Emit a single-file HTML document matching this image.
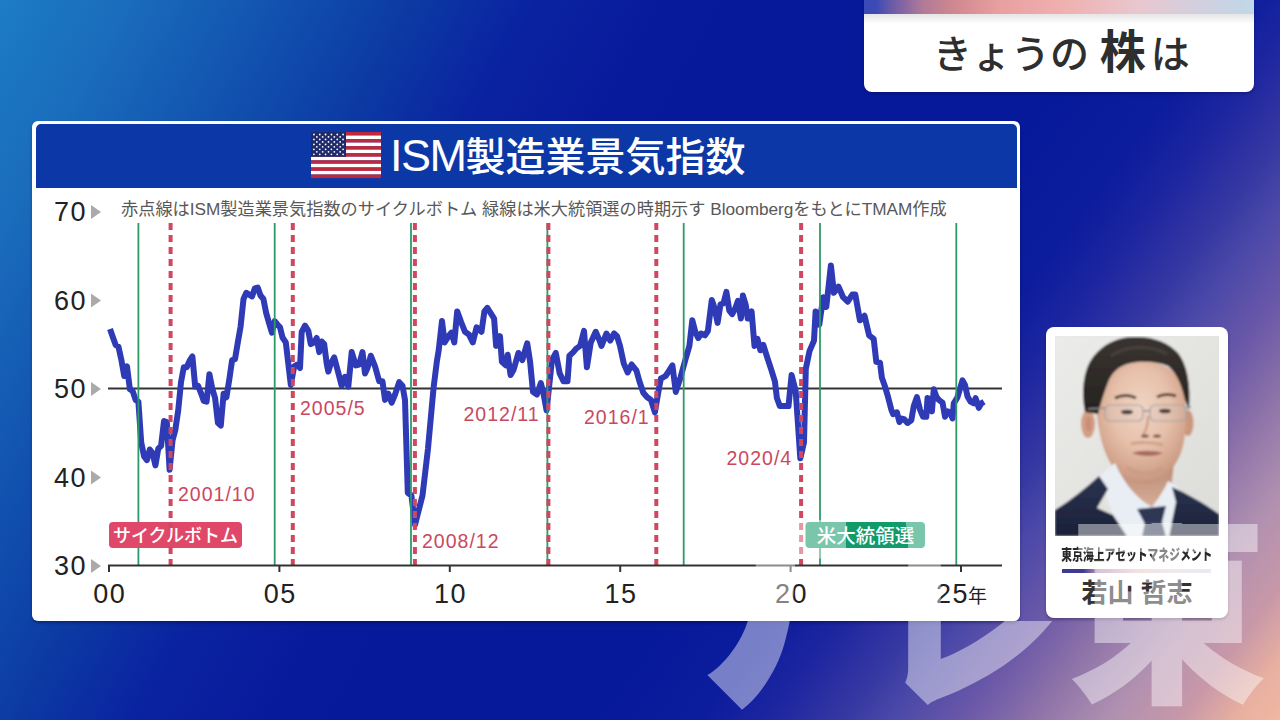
<!DOCTYPE html>
<html lang="ja">
<head>
<meta charset="utf-8">
<title>きょうの株は ISM製造業景気指数</title>
<style>
html,body{margin:0;padding:0;}
body{width:1280px;height:720px;overflow:hidden;position:relative;
  font-family:"Liberation Sans", "Noto Sans CJK JP", sans-serif;
  background:
    linear-gradient(127deg, rgba(10,27,156,0) 0%, rgba(10,27,156,0) 62%, rgba(11,28,156,1) 68%, #1e26a0 72%, #3638a2 76%, #4a48a8 78.5%, #6a58a8 82.5%, #8a70a8 86%, #b090b0 90.5%, #c898a8 94.5%, #e8b0a0 97.5%, #f0b8a0 100%),
    linear-gradient(119deg, #1c7cc4 0%, #1a6cbc 7.7%, #1254b0 16%, #0c3ca4 24%, #0a22a0 32%, #081a9c 40%, #07199b 55%, #0a1b9c 100%);
}
.abs{position:absolute;}
/* title box */
#tbox{left:864px;top:0;width:390px;height:92px;background:#fff;border-radius:0 0 8px 8px;overflow:hidden;box-shadow:0 2px 3px rgba(0,0,30,0.25);}
#tbox .strip{position:absolute;left:0;top:0;width:100%;height:14px;
  background:linear-gradient(90deg,#3a4ab8 0%,#3c4ab6 3%,#6a5aa8 7%,#b07a98 15%,#d08890 23%,#e8a0a0 35%,#f0b0b0 51%,#e8c8d0 71%,#d0d0e0 87%,#c0d8e8 100%);}
#tbox .shade{position:absolute;left:0;top:14px;width:100%;height:10px;background:linear-gradient(180deg,rgba(0,0,0,0.10),rgba(0,0,0,0));}
#tbox .t{position:absolute;left:0;top:29px;width:390px;text-align:left;text-indent:69px;white-space:nowrap;color:#2e2e2e;font-size:39px;font-weight:500;line-height:1;}
#tbox .t b{font-size:46px;font-weight:700;}
/* chart panel */
#panel{left:32px;top:121px;width:988px;height:500px;background:#fff;border-radius:6px;box-shadow:0 2px 3px rgba(0,0,40,0.35);}
#phead{left:35.5px;top:124px;width:981.5px;height:64px;background:#0b38a6;border-radius:5px 5px 0 0;}
#ptitle{left:390px;top:124px;height:64px;line-height:64px;color:#fff;font-size:40px;font-weight:500;white-space:nowrap;letter-spacing:0px;}
#ptitle .ism{font-size:45px;letter-spacing:-1.5px;}
svg text{font-family:"Liberation Sans", "Noto Sans CJK JP", sans-serif;}
.yl{font-size:27px;fill:#222;letter-spacing:1.5px;}
.bt2{font-size:19.5px;fill:#fff;font-weight:500;}
.nen{font-size:19px;fill:#222;}
.rl{font-size:19.5px;fill:#c9485f;letter-spacing:1px;}
.bt{font-size:18px;fill:#fff;font-weight:500;}
.sub{font-size:17.2px;fill:#585858;}
/* profile card */
#card{left:1046px;top:327px;width:182px;height:291px;background:#fff;border-radius:8px;box-shadow:0 2px 3px rgba(0,0,40,0.3);}
#photo{left:1055px;top:336px;width:164px;height:200px;overflow:hidden;background:#e5e5e3;}
#comp{left:987px;top:545px;width:300px;text-align:center;white-space:nowrap;font-size:15px;font-weight:900;color:#2a2a2a;line-height:20px;}
#comp span{display:inline-block;transform:scaleX(0.72);transform-origin:center;}
#gbar{left:1062px;top:568.5px;width:149px;height:4px;background:linear-gradient(90deg,#3c3a92 0%,#3c3a92 14%,#b894b4 24%,#eccaca 50%,#e4d8e0 75%,#d6dce8 100%);}
#name{left:1046px;top:575px;width:182px;text-align:center;white-space:nowrap;font-size:26px;font-weight:700;color:#333;line-height:36px;}
/* watermark */
#wm{left:0;top:0;width:1280px;height:720px;pointer-events:none;}
#wm span{position:absolute;color:#fff;opacity:0.44;font-weight:900;line-height:1;white-space:nowrap;}
</style>
</head>
<body>
<div id="tbox" class="abs"><div class="strip"></div><div class="shade"></div><div class="t">きょうの <b>株</b><span style="margin-left:5px">は</span></div></div>

<div id="panel" class="abs"></div>
<div id="phead" class="abs"></div>
<svg class="abs" style="left:0;top:0" width="1280" height="720" viewBox="0 0 1280 720">
<rect x="311" y="132.00" width="70" height="3.59" fill="#c0283e"/>
<rect x="311" y="135.54" width="70" height="3.59" fill="#ffffff"/>
<rect x="311" y="139.08" width="70" height="3.59" fill="#c0283e"/>
<rect x="311" y="142.62" width="70" height="3.59" fill="#ffffff"/>
<rect x="311" y="146.15" width="70" height="3.59" fill="#c0283e"/>
<rect x="311" y="149.69" width="70" height="3.59" fill="#ffffff"/>
<rect x="311" y="153.23" width="70" height="3.59" fill="#c0283e"/>
<rect x="311" y="156.77" width="70" height="3.59" fill="#ffffff"/>
<rect x="311" y="160.31" width="70" height="3.59" fill="#c0283e"/>
<rect x="311" y="163.85" width="70" height="3.59" fill="#ffffff"/>
<rect x="311" y="167.38" width="70" height="3.59" fill="#c0283e"/>
<rect x="311" y="170.92" width="70" height="3.59" fill="#ffffff"/>
<rect x="311" y="174.46" width="70" height="3.59" fill="#c0283e"/>
<rect x="311" y="132" width="35" height="24.77" fill="#1e2a6a"/>
<circle cx="313.92" cy="134.48" r="0.9" fill="#fff"/>
<circle cx="319.75" cy="134.48" r="0.9" fill="#fff"/>
<circle cx="325.58" cy="134.48" r="0.9" fill="#fff"/>
<circle cx="331.42" cy="134.48" r="0.9" fill="#fff"/>
<circle cx="337.25" cy="134.48" r="0.9" fill="#fff"/>
<circle cx="343.08" cy="134.48" r="0.9" fill="#fff"/>
<circle cx="316.83" cy="136.95" r="0.9" fill="#fff"/>
<circle cx="322.67" cy="136.95" r="0.9" fill="#fff"/>
<circle cx="328.50" cy="136.95" r="0.9" fill="#fff"/>
<circle cx="334.33" cy="136.95" r="0.9" fill="#fff"/>
<circle cx="340.17" cy="136.95" r="0.9" fill="#fff"/>
<circle cx="313.92" cy="139.43" r="0.9" fill="#fff"/>
<circle cx="319.75" cy="139.43" r="0.9" fill="#fff"/>
<circle cx="325.58" cy="139.43" r="0.9" fill="#fff"/>
<circle cx="331.42" cy="139.43" r="0.9" fill="#fff"/>
<circle cx="337.25" cy="139.43" r="0.9" fill="#fff"/>
<circle cx="343.08" cy="139.43" r="0.9" fill="#fff"/>
<circle cx="316.83" cy="141.91" r="0.9" fill="#fff"/>
<circle cx="322.67" cy="141.91" r="0.9" fill="#fff"/>
<circle cx="328.50" cy="141.91" r="0.9" fill="#fff"/>
<circle cx="334.33" cy="141.91" r="0.9" fill="#fff"/>
<circle cx="340.17" cy="141.91" r="0.9" fill="#fff"/>
<circle cx="313.92" cy="144.38" r="0.9" fill="#fff"/>
<circle cx="319.75" cy="144.38" r="0.9" fill="#fff"/>
<circle cx="325.58" cy="144.38" r="0.9" fill="#fff"/>
<circle cx="331.42" cy="144.38" r="0.9" fill="#fff"/>
<circle cx="337.25" cy="144.38" r="0.9" fill="#fff"/>
<circle cx="343.08" cy="144.38" r="0.9" fill="#fff"/>
<circle cx="316.83" cy="146.86" r="0.9" fill="#fff"/>
<circle cx="322.67" cy="146.86" r="0.9" fill="#fff"/>
<circle cx="328.50" cy="146.86" r="0.9" fill="#fff"/>
<circle cx="334.33" cy="146.86" r="0.9" fill="#fff"/>
<circle cx="340.17" cy="146.86" r="0.9" fill="#fff"/>
<circle cx="313.92" cy="149.34" r="0.9" fill="#fff"/>
<circle cx="319.75" cy="149.34" r="0.9" fill="#fff"/>
<circle cx="325.58" cy="149.34" r="0.9" fill="#fff"/>
<circle cx="331.42" cy="149.34" r="0.9" fill="#fff"/>
<circle cx="337.25" cy="149.34" r="0.9" fill="#fff"/>
<circle cx="343.08" cy="149.34" r="0.9" fill="#fff"/>
<circle cx="316.83" cy="151.82" r="0.9" fill="#fff"/>
<circle cx="322.67" cy="151.82" r="0.9" fill="#fff"/>
<circle cx="328.50" cy="151.82" r="0.9" fill="#fff"/>
<circle cx="334.33" cy="151.82" r="0.9" fill="#fff"/>
<circle cx="340.17" cy="151.82" r="0.9" fill="#fff"/>
<circle cx="313.92" cy="154.29" r="0.9" fill="#fff"/>
<circle cx="319.75" cy="154.29" r="0.9" fill="#fff"/>
<circle cx="325.58" cy="154.29" r="0.9" fill="#fff"/>
<circle cx="331.42" cy="154.29" r="0.9" fill="#fff"/>
<circle cx="337.25" cy="154.29" r="0.9" fill="#fff"/>
<circle cx="343.08" cy="154.29" r="0.9" fill="#fff"/>
</svg>
<div id="ptitle" class="abs"><span class="ism">ISM</span>製造業景気指数</div>

<svg class="abs" style="left:0;top:0" width="1280" height="720" viewBox="0 0 1280 720">
<line x1="108" y1="388.4" x2="1002" y2="388.4" stroke="#333" stroke-width="2"/>
<polyline points="110.0,329.1 112.8,337.1 115.7,345.0 118.5,346.8 121.4,360.1 124.2,376.0 127.0,366.3 129.9,389.3 132.7,391.1 135.6,399.9 138.4,401.7 141.2,442.4 144.1,456.5 146.9,460.1 149.8,449.5 152.6,453.0 155.4,465.4 158.3,448.6 161.1,445.9 164.0,421.1 166.8,422.0 169.6,469.8 172.5,440.6 175.3,430.0 178.2,410.5 181.0,382.2 183.8,367.2 186.7,367.2 189.5,361.0 192.4,356.5 195.2,386.6 198.0,385.7 200.9,392.8 203.7,400.8 206.6,401.7 209.4,374.2 212.2,388.4 215.1,398.1 217.9,422.9 220.8,425.6 223.6,393.7 226.4,397.2 229.3,379.5 232.1,360.1 235.0,359.2 237.8,342.4 240.6,326.4 243.5,299.0 246.3,292.8 249.2,294.6 252.0,296.4 254.8,288.4 257.7,287.5 260.5,295.5 263.4,299.0 266.2,313.2 269.0,322.9 271.9,332.6 274.7,321.1 277.6,324.7 280.0,327.3 282.5,337.5 285.8,342.4 288.3,363.6 290.8,384.9 294.2,366.3 297.5,364.5 300.0,368.0 301.7,331.8 305.0,325.6 308.3,330.9 310.8,344.1 314.2,342.4 316.7,338.0 319.2,352.1 321.7,341.5 324.2,344.1 326.7,363.6 328.3,371.6 330.8,363.6 334.2,357.4 337.5,369.8 341.7,385.7 345.0,376.9 348.3,386.6 351.7,352.1 355.8,365.4 359.2,364.5 362.5,352.1 365.0,373.4 367.5,368.0 370.8,355.7 375.0,366.3 379.2,381.3 382.5,381.3 385.0,399.9 388.3,393.7 391.7,402.6 395.0,394.6 399.2,382.2 402.5,385.7 405.0,399.9 407.8,492.8 411.4,495.5 415.0,524.7 418.9,509.6 422.5,495.5 428.0,448.6 433.6,387.5 436.8,361.8 438.7,350.3 442.0,321.1 444.6,342.4 448.5,336.2 451.4,332.6 454.3,342.4 457.2,311.4 461.1,322.0 465.0,331.8 468.9,334.4 472.8,342.4 476.6,327.3 481.5,331.8 484.4,311.4 487.3,307.9 490.2,312.3 494.1,318.5 496.1,345.9 500.0,336.2 501.9,361.8 505.8,365.4 507.7,354.8 510.6,375.1 513.6,369.8 518.4,353.0 522.3,360.1 527.2,343.3 530.1,361.8 533.0,391.9 536.9,394.6 540.8,383.1 543.7,394.6 546.6,410.5 551.9,360.1 555.8,353.0 559.7,373.4 563.6,381.3 567.5,381.3 569.4,355.7 573.3,352.1 576.2,348.6 580.1,345.9 584.0,330.9 586.9,367.2 590.8,342.4 595.7,331.8 599.6,340.6 601.5,345.9 606.4,333.5 610.2,340.6 614.1,333.5 617.0,336.2 620.0,345.9 623.8,363.6 627.7,372.5 631.6,364.5 636.5,370.7 639.4,381.3 643.3,392.8 647.2,397.2 651.0,399.9 654.9,412.3 657.9,394.6 660.8,378.7 665.6,376.0 668.5,371.6 672.4,365.4 675.8,391.9 680.7,376.9 685.5,359.2 689.4,345.9 692.3,320.3 695.3,331.8 698.2,338.0 701.1,333.5 705.0,335.3 707.9,330.9 711.8,299.9 714.7,308.8 717.6,322.9 720.5,304.3 723.4,303.4 726.4,291.9 729.3,310.5 732.2,314.1 735.1,308.8 738.0,300.8 740.9,318.5 742.9,295.5 745.8,305.2 747.7,318.5 751.6,311.4 754.5,345.9 757.4,338.8 760.4,350.3 763.3,345.0 767.2,357.4 771.0,368.9 774.9,381.3 776.9,398.1 779.8,406.1 784.7,406.1 788.5,406.1 791.6,375.1 795.7,391.1 800.3,458.3 804.0,442.4 805.8,368.9 809.5,351.2 814.0,340.6 815.6,311.4 819.3,324.7 823.2,297.2 826.3,307.0 830.9,265.4 833.9,292.8 838.5,286.6 843.1,297.2 847.7,301.7 852.3,294.6 855.3,294.6 859.9,320.3 864.5,315.8 869.1,335.3 873.7,338.8 876.3,361.8 880.0,362.7 881.9,377.8 885.0,386.6 888.1,397.2 891.3,409.6 893.1,414.1 896.9,412.3 899.4,422.0 901.9,418.5 904.4,419.4 907.5,422.9 911.3,420.3 913.8,406.1 916.9,397.2 920.0,409.6 923.1,416.7 926.3,416.7 927.5,398.1 930.0,399.0 931.9,411.4 933.8,389.3 936.3,396.4 938.8,399.9 942.5,402.6 945.0,416.7 947.5,411.4 950.0,412.3 952.5,418.5 953.8,403.4 957.5,397.2 962.5,380.4 965.0,384.9 967.5,396.4 970.6,401.7 973.8,403.4 975.6,398.1 978.8,407.9 981.3,403.4 984.0,401.7" fill="none" stroke="#2f3bb6" stroke-width="6" stroke-linejoin="round" stroke-linecap="butt"/>
<line x1="138.4" y1="223" x2="138.4" y2="565" stroke="#2e9a6a" stroke-width="1.8"/>
<line x1="274.7" y1="223" x2="274.7" y2="565" stroke="#2e9a6a" stroke-width="1.8"/>
<line x1="411.0" y1="223" x2="411.0" y2="565" stroke="#2e9a6a" stroke-width="1.8"/>
<line x1="547.4" y1="223" x2="547.4" y2="565" stroke="#2e9a6a" stroke-width="1.8"/>
<line x1="683.7" y1="223" x2="683.7" y2="565" stroke="#2e9a6a" stroke-width="1.8"/>
<line x1="820.0" y1="223" x2="820.0" y2="565" stroke="#2e9a6a" stroke-width="1.8"/>
<line x1="956.3" y1="223" x2="956.3" y2="565" stroke="#2e9a6a" stroke-width="1.8"/>
<rect x="109" y="522" width="133" height="26" rx="4" fill="#e0486a"/>
<rect x="805.5" y="522" width="119.5" height="26" rx="4" fill="#119a6a"/>
<line x1="170.6" y1="223" x2="170.6" y2="565" stroke="#d0475f" stroke-width="4" stroke-dasharray="7 5"/>
<line x1="292.8" y1="223" x2="292.8" y2="565" stroke="#d0475f" stroke-width="4" stroke-dasharray="7 5"/>
<line x1="414.9" y1="223" x2="414.9" y2="565" stroke="#d0475f" stroke-width="4" stroke-dasharray="7 5"/>
<line x1="548.4" y1="223" x2="548.4" y2="565" stroke="#d0475f" stroke-width="4" stroke-dasharray="7 5"/>
<line x1="656.3" y1="223" x2="656.3" y2="565" stroke="#d0475f" stroke-width="4" stroke-dasharray="7 5"/>
<line x1="801.1" y1="223" x2="801.1" y2="565" stroke="#d0475f" stroke-width="4" stroke-dasharray="7 5"/>
<line x1="108" y1="565.5" x2="1002" y2="565.5" stroke="#333" stroke-width="2"/>
<line x1="109.0" y1="565" x2="109.0" y2="572" stroke="#333" stroke-width="2"/>
<line x1="279.4" y1="565" x2="279.4" y2="572" stroke="#333" stroke-width="2"/>
<line x1="449.8" y1="565" x2="449.8" y2="572" stroke="#333" stroke-width="2"/>
<line x1="620.2" y1="565" x2="620.2" y2="572" stroke="#333" stroke-width="2"/>
<line x1="790.6" y1="565" x2="790.6" y2="572" stroke="#333" stroke-width="2"/>
<line x1="961.0" y1="565" x2="961.0" y2="572" stroke="#333" stroke-width="2"/>
<text x="87" y="221.0" text-anchor="end" class="yl">70</text>
<polygon points="91,205 101,212 91,219" fill="#aaaaaa"/>
<text x="87" y="309.5" text-anchor="end" class="yl">60</text>
<polygon points="91,293.5 101,300.5 91,307.5" fill="#aaaaaa"/>
<text x="87" y="398.0" text-anchor="end" class="yl">50</text>
<polygon points="91,382 101,389 91,396" fill="#aaaaaa"/>
<text x="87" y="486.5" text-anchor="end" class="yl">40</text>
<polygon points="91,470.5 101,477.5 91,484.5" fill="#aaaaaa"/>
<text x="87" y="575.0" text-anchor="end" class="yl">30</text>
<polygon points="91,559 101,566 91,573" fill="#aaaaaa"/>
<text x="109.8" y="603" text-anchor="middle" class="yl">00</text>
<text x="280.2" y="603" text-anchor="middle" class="yl">05</text>
<text x="450.6" y="603" text-anchor="middle" class="yl">10</text>
<text x="621.0" y="603" text-anchor="middle" class="yl">15</text>
<text x="791.4" y="603" text-anchor="middle" class="yl">20</text>
<text x="952.5" y="603" text-anchor="middle" class="yl">25</text>
<text x="968" y="603" class="nen">年</text>
<text x="178" y="501" class="rl">2001/10</text>
<text x="300" y="415" class="rl">2005/5</text>
<text x="422" y="547.5" class="rl">2008/12</text>
<text x="463.5" y="421" class="rl">2012/11</text>
<text x="584" y="423.5" class="rl">2016/1</text>
<text x="726.5" y="465" class="rl">2020/4</text>
<text x="175.5" y="542" text-anchor="middle" class="bt">サイクルボトム</text>
<text x="865.5" y="542.5" text-anchor="middle" class="bt2">米大統領選</text>
<text x="121" y="215" class="sub">赤点線はISM製造業景気指数のサイクルボトム 緑線は米大統領選の時期示す BloombergをもとにTMAM作成</text>
</svg>

<div id="card" class="abs"></div>
<div id="photo" class="abs">
<svg width="164" height="200" viewBox="0 0 164 200">
  <defs>
    <filter id="soft" x="-5%" y="-5%" width="110%" height="110%"><feGaussianBlur stdDeviation="0.8"/></filter>
    <linearGradient id="bgp" x1="0" y1="0" x2="1" y2="1"><stop offset="0" stop-color="#ebebe9"/><stop offset="1" stop-color="#dcdcd9"/></linearGradient>
    <radialGradient id="skin" cx="50%" cy="38%" r="65%">
      <stop offset="0%" stop-color="#f0d4c4"/>
      <stop offset="50%" stop-color="#e6c0aa"/>
      <stop offset="85%" stop-color="#d0a088"/>
      <stop offset="100%" stop-color="#bf8e76"/>
    </radialGradient>
    <linearGradient id="neck" x1="0" y1="0" x2="0" y2="1"><stop offset="0" stop-color="#b3816c"/><stop offset="1" stop-color="#d9b09a"/></linearGradient>
    <linearGradient id="suit" x1="0" y1="0" x2="0" y2="1"><stop offset="0" stop-color="#2a3350"/><stop offset="1" stop-color="#1b2138"/></linearGradient>
    <linearGradient id="hair" x1="0" y1="0" x2="0" y2="1"><stop offset="0" stop-color="#3a3431"/><stop offset="1" stop-color="#26221f"/></linearGradient>
  </defs>
  <g filter="url(#soft)">
    <rect x="0" y="0" width="164" height="200" fill="url(#bgp)"/>
    <path d="M60 120 C60 140 62 156 66 164 L97 174 L116 152 C118 140 119 128 119 116 Z" fill="url(#neck)"/>
    <ellipse cx="33" cy="88" rx="7" ry="14" fill="#d49e84"/>
    <ellipse cx="33.5" cy="88" rx="3" ry="8" fill="#c08670" opacity="0.6"/>
    <ellipse cx="133" cy="87" rx="5.5" ry="13" fill="#cc977c"/>
    <path d="M41 72 C40 56 50 34 75 27 C100 22 125 30 130 58 C132 80 131 98 128 110 C124 127 113 141 97 147 C85 150 72 146 62 136 C51 124 44 104 41 72 Z" fill="url(#skin)"/>
    <path d="M30 76 C26 56 28 34 38 21 C48 8 62 1 79 1 C97 0 113 6 123 17 C132 28 136 48 134 74 L130 64 C127 50 122 37 113 30 C101 25 86 25 76 27 C63 30 56 37 52 49 C49 57 46 66 43 78 Z" fill="url(#hair)"/>
    <path d="M56 20 C70 10 95 8 112 18" stroke="#5a524c" stroke-width="3" fill="none" opacity="0.5"/>
    <path d="M44 140 L60 127 C70 150 84 164 97 171 C104 162 110 152 113 145 L123 151 L127 200 L66 200 Z" fill="#e9eef4"/>
    <path d="M0 174 C16 164 31 152 44 140 L53 153 L42 172 L58 179 L72 200 L0 200 Z" fill="url(#suit)"/>
    <path d="M164 178 C150 168 133 158 117 151 L121 166 L114 200 L164 200 Z" fill="url(#suit)"/>
    <path d="M82 173 L111 170 L107 186 L90 188 Z" fill="#2d3754"/>
    <path d="M90 186 L107 186 L111 200 L87 200 Z" fill="#3a4460"/>
    <path d="M60 62 C67 59 75 59 81 62" stroke="#5a4438" stroke-width="3" fill="none"/>
    <path d="M102 61 C108 58 115 58 121 60" stroke="#5a4438" stroke-width="3" fill="none"/>
    <ellipse cx="72" cy="76" rx="6" ry="2.3" fill="#3a2a28"/>
    <ellipse cx="110" cy="75" rx="6" ry="2.3" fill="#3a2a28"/>
    <path d="M33 73 L50 72 M88 75 L95 75 M130 72 L136 71" stroke="#8c8c8c" stroke-width="1.5" fill="none"/>
    <rect x="50" y="69" width="38" height="16" rx="5" fill="rgba(200,200,210,0.12)" stroke="#a4a4a4" stroke-width="1.2"/>
    <rect x="95" y="69" width="36" height="16" rx="5" fill="rgba(200,200,210,0.12)" stroke="#a4a4a4" stroke-width="1.2"/>
    <path d="M93 80 C93 89 91 95 88 99" stroke="#c8957c" stroke-width="2.4" fill="none" opacity="0.8"/>
    <ellipse cx="90" cy="100" rx="4" ry="1.6" fill="#7a4e42"/>
    <ellipse cx="102" cy="100" rx="4" ry="1.6" fill="#7a4e42"/>
    <path d="M77 117 C85 114 98 114 108 117 C100 121 86 121 77 117 Z" fill="#a86a60"/>
    <path d="M76 108 C84 106 98 106 108 109" stroke="#b8876f" stroke-width="3" fill="none" opacity="0.5"/>
    <path d="M72 132 C82 138 96 140 108 132" stroke="#c69a84" stroke-width="4" fill="none" opacity="0.6"/>
  </g>
</svg>
</div>
<div id="comp" class="abs"><span>東京海上アセットマネジメント</span></div>
<div id="gbar" class="abs"></div>
<div id="name" class="abs">若山 哲志</div>

<div id="wm" class="abs">
  <div style="position:absolute;left:700px;top:520px;width:146px;height:200px;overflow:hidden;"><span style="left:-35px;top:17px;font-size:200px;transform:scale(1.15,1.7) skewX(5deg);transform-origin:0 100%;">テ</span></div>
  <div style="position:absolute;left:860px;top:500px;width:220px;height:220px;clip-path:polygon(0 0,130px 0,130px 121px,220px 121px,220px 220px,0 220px);"><span style="left:10px;top:30.5px;font-size:196px;transform:scaleY(1.13);transform-origin:0 100%;">レ</span></div>
  <div style="position:absolute;left:1040px;top:523px;width:240px;height:197px;overflow:hidden;"><span style="left:27.4px;top:-13px;font-size:200px;transform:scaleY(1.04);transform-origin:0 0;">東</span></div>
</div>
</body>
</html>
